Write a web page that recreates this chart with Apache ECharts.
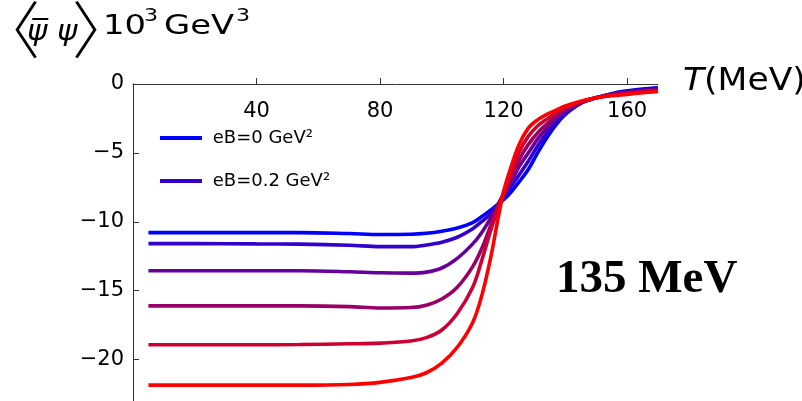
<!DOCTYPE html>
<html><head><meta charset="utf-8">
<script src="https://cdn.jsdelivr.net/npm/echarts@6/dist/echarts.min.js"></script>
<style>html,body{margin:0;padding:0;background:#fff}#c{width:802px;height:401px}</style>
</head><body><div id="c"></div>
<script>
// Temperature (MeV)
const T = [5, 20, 40, 54, 70, 80, 90, 95, 100, 105, 110, 113, 116, 118, 120, 122, 125, 128, 131, 134, 137, 140, 145, 150, 155, 160, 165, 170];
// condensate curves (10^3 GeV^3), blue -> red
const curve1 = [-10.78, -10.78, -10.78, -10.78, -10.85, -10.92, -10.9, -10.83, -10.68, -10.45, -10.05, -9.62, -9.12, -8.75, -8.4, -7.95, -7.1, -6.2, -5.0, -3.9, -2.95, -2.2, -1.4, -1.0, -0.7, -0.5, -0.37, -0.28];
const curve2 = [-11.58, -11.58, -11.6, -11.62, -11.7, -11.8, -11.8, -11.68, -11.48, -11.12, -10.5, -9.97, -9.4, -8.9, -8.25, -7.6, -6.6, -5.6, -4.5, -3.55, -2.75, -2.1, -1.38, -1.0, -0.73, -0.55, -0.42, -0.33];
const curve3 = [-13.55, -13.55, -13.55, -13.55, -13.62, -13.7, -13.72, -13.65, -13.35, -12.65, -11.6, -10.75, -9.65, -8.8, -8.05, -7.3, -6.0, -5.0, -4.0, -3.2, -2.5, -1.95, -1.35, -1.0, -0.76, -0.6, -0.48, -0.39];
const curve4 = [-16.1, -16.1, -16.1, -16.1, -16.15, -16.25, -16.22, -16.05, -15.6, -14.75, -13.25, -11.9, -10.15, -8.9, -7.95, -7.0, -5.5, -4.4, -3.55, -2.9, -2.3, -1.85, -1.32, -1.0, -0.79, -0.65, -0.53, -0.44];
const curve5 = [-18.92, -18.92, -18.92, -18.9, -18.85, -18.8, -18.65, -18.4, -17.85, -16.65, -14.75, -12.75, -10.5, -9.2, -7.9, -6.8, -4.95, -3.8, -3.05, -2.55, -2.1, -1.7, -1.28, -1.0, -0.82, -0.7, -0.59, -0.5];
const curve6 = [-21.85, -21.85, -21.85, -21.85, -21.8, -21.65, -21.3, -20.95, -20.25, -19.1, -17.3, -15.3, -12.4, -10.0, -7.8, -6.3, -4.4, -3.2, -2.6, -2.2, -1.9, -1.6, -1.25, -1.0, -0.85, -0.75, -0.64, -0.55];
const curves = [curve1, curve2, curve3, curve4, curve5, curve6];
const names = ['eB=0 GeV\u00B2', 'eB=0.2 GeV\u00B2', 'line 3', 'line 4', 'line 5', 'line 6'];
const colors = ['#0000ff', '#3300cc', '#660099', '#990066', '#cc0033', '#ff0000'];
const xTicks = [40, 80, 120, 160];
const yTicks = [0, -5, -10, -15, -20];

const SANS = '"DejaVu Sans", sans-serif';
const chart = echarts.init(document.getElementById('c'), null, {renderer: 'canvas'});

const series = curves.map((c, i) => ({
  name: names[i], type: 'line', data: T.map((t, j) => [t, c[j]]),
  showSymbol: false, smooth: 0.35,
  lineStyle: {color: colors[i], width: 3.6}, itemStyle: {color: colors[i]},
  emphasis: {disabled: true}, silent: true
}));

function legendAt(name, top) {
  return {
    data: [name], left: 160, top: top, orient: 'vertical', selectedMode: false,
    icon: 'rect', itemWidth: 42, itemHeight: 4, padding: 0,
    formatter: n => ' ' + n,
    textStyle: {fontFamily: SANS, fontSize: 18, color: '#000'}
  };
}

const titleScale = 1.3;
function t(text, x, y, size, opts) {
  opts = opts || {};
  return {
    type: 'text', x: x, y: y, scaleX: opts.sx || 1, silent: true,
    style: {text: text, fontFamily: opts.font || SANS, fontSize: size, fontStyle: opts.italic ? 'italic' : 'normal',
      fontWeight: opts.weight || 'normal', fill: '#000', align: 'left', verticalAlign: 'middle'}
  };
}
const CJK = '"Noto Sans CJK SC", sans-serif';

chart.setOption({
  animation: false,
  backgroundColor: '#fff',
  grid: {left: 133, right: 144, top: 84, bottom: 0, containLabel: false, outerBoundsMode: 'none'},
  xAxis: {
    type: 'value', position: 'top', min: 0, max: 170,
    axisLine: {show: true, onZero: false, lineStyle: {color: '#333', width: 1}},
    axisTick: {show: true, inside: false, length: 6, customValues: xTicks, lineStyle: {color: '#333'}},
    axisLabel: {inside: true, margin: 17, customValues: xTicks, fontFamily: SANS, fontSize: 21, color: '#000'},
    splitLine: {show: false}
  },
  yAxis: {
    type: 'value', min: -23, max: 0,
    axisLine: {show: true, onZero: false, lineStyle: {color: '#333', width: 1}},
    axisTick: {show: true, inside: true, length: 6, customValues: yTicks, lineStyle: {color: '#333'}},
    axisLabel: {margin: 9, customValues: yTicks, fontFamily: SANS, fontSize: 21, color: '#000',
      formatter: v => v < 0 ? '\u2212' + (-v) : String(v)},
    splitLine: {show: false}
  },
  legend: [legendAt(names[0], 129), legendAt(names[1], 172)],
  graphic: [
    t('\u3008', -22, 30, 62, {font: CJK, weight: 300}),
    t('\u03C8\u0305', 27, 33, 28, {italic: true, sx: 1.1}),
    t('\u03C8', 57, 33, 28, {italic: true, sx: 1.1}),
    t('\u3009', 72, 30, 62, {font: CJK, weight: 300}),
    t('10', 103, 27, 26, {sx: titleScale}),
    t('3', 144, 17, 17, {sx: titleScale}),
    t('GeV', 164, 27, 26, {sx: titleScale}),
    t('3', 236, 17, 17, {sx: titleScale}),
    {
      type: 'text', x: 683, y: 82, scaleX: 1.08, silent: true,
      style: {text: '{i|T}(MeV)', fontFamily: SANS, fontSize: 32, fill: '#000', verticalAlign: 'middle',
        rich: {i: {fontFamily: SANS, fontSize: 32, fontStyle: 'italic', fill: '#000'}}}
    },
    t('135 MeV', 556, 280, 47, {font: '"Liberation Serif", serif', weight: 'bold'})
  ],
  series: series
});
</script></body></html>
